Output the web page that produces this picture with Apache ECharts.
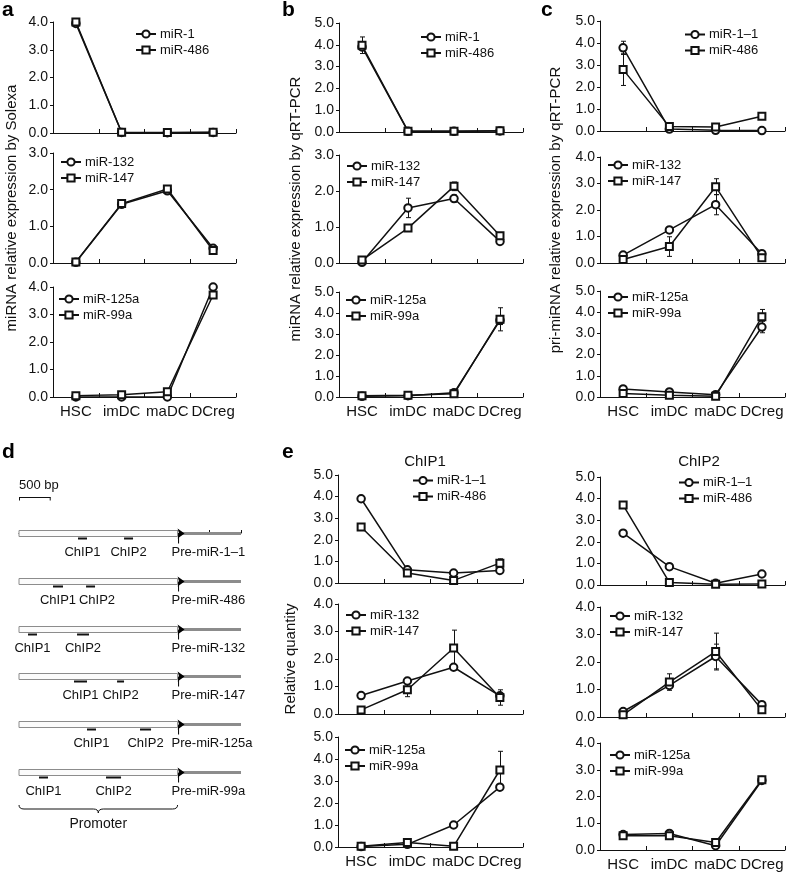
<!DOCTYPE html>
<html>
<head>
<meta charset="utf-8">
<script src="https://cdn.jsdelivr.net/npm/echarts@6/dist/echarts.min.js"></script>
<style>
  html, body { margin: 0; padding: 0; background: #fff; }
  #main { width: 788px; height: 872px; }
</style>
</head>
<body>
<div id="main"></div>
<script>
// stages on the x axis
var categories = ['HSC', 'imDC', 'maDC', 'DCreg'];

// a: Solexa
var a_miR1 = [3.95, 0.02, 0.01, 0.02];
var a_miR486 = [4.0, 0.03, 0.02, 0.03];
var a_miR132 = [0.02, 1.6, 1.97, 0.4];
var a_miR147 = [0.03, 1.62, 2.02, 0.34];
var a_miR125a = [0.0, 0.0, 0.0, 4.0];
var a_miR99a = [0.05, 0.08, 0.19, 3.71];

// b: miRNA qRT-PCR
var b_miR1 = [3.9, 0.03, 0.03, 0.05];
var b_miR486 = [3.98, 0.04, 0.04, 0.06];
var b_miR486_err = [0.38, 0, 0, 0];
var b_miR132 = [0.02, 1.53, 1.79, 0.6];
var b_miR132_err = [0, 0.27, 0.1, 0.08];
var b_miR147 = [0.08, 0.97, 2.13, 0.76];
var b_miR147_err = [0, 0, 0.12, 0.04];
var b_miR125a = [0.03, 0.06, 0.2, 3.65];
var b_miR125a_err = [0, 0, 0, 0.2];
var b_miR99a = [0.06, 0.08, 0.15, 3.7];
var b_miR99a_err = [0, 0, 0, 0.55];

// c: pri-miRNA qRT-PCR
var c_miR11 = [3.78, 0.09, 0.03, 0.02];
var c_miR11_err = [0.3, 0, 0, 0];
var c_miR486 = [2.79, 0.2, 0.18, 0.67];
var c_miR486_err = [0.72, 0, 0, 0];
var c_miR132 = [0.3, 1.25, 2.2, 0.35];
var c_miR132_err = [0, 0.1, 0.38, 0];
var c_miR147 = [0.13, 0.62, 2.88, 0.2];
var c_miR147_err = [0, 0.37, 0.3, 0.05];
var c_miR125a = [0.38, 0.24, 0.11, 3.3];
var c_miR125a_err = [0, 0, 0, 0.27];
var c_miR99a = [0.17, 0.08, 0.03, 3.78];
var c_miR99a_err = [0, 0, 0, 0.35];

// e: ChIP1
var e1_miR11 = [3.9, 0.61, 0.46, 0.58];
var e1_miR486 = [2.59, 0.46, 0.12, 0.92];
var e1_miR486_err = [0, 0, 0, 0.2];
var e1_miR132 = [0.67, 1.2, 1.7, 0.66];
var e1_miR132_err = [0, 0, 0.1, 0];
var e1_miR147 = [0.15, 0.88, 2.4, 0.6];
var e1_miR147_err = [0, 0.25, 0.65, 0.28];
var e1_miR125a = [0.02, 0.12, 1.0, 2.72];
var e1_miR125a_err = [0, 0, 0, 0.1];
var e1_miR99a = [0.03, 0.2, 0.03, 3.5];
var e1_miR99a_err = [0, 0, 0, 0.85];

// e: ChIP2
var e2_miR11 = [2.4, 0.85, 0.08, 0.51];
var e2_miR486 = [3.7, 0.12, 0.03, 0.05];
var e2_miR132 = [0.2, 1.15, 2.2, 0.45];
var e2_miR132_err = [0, 0, 0.45, 0];
var e2_miR147 = [0.08, 1.27, 2.38, 0.26];
var e2_miR147_err = [0, 0.3, 0.67, 0];
var e2_miR125a = [0.58, 0.62, 0.16, 2.6];
var e2_miR99a = [0.53, 0.53, 0.28, 2.63];

// d: promoter schematic (bp)
var geneNames = ['Pre-miR-1\u20131', 'Pre-miR-486', 'Pre-miR-132', 'Pre-miR-147', 'Pre-miR-125a', 'Pre-miR-99a'];
var chip1Start = [930, 536, 142, 867, 1072, 315];
var chip1End = [1072, 694, 284, 1072, 1214, 457];
var chip2Start = [1656, 1057, 915, 1546, 1908, 1372];
var chip2End = [1798, 1199, 1104, 1656, 2082, 1609];
var promoterLength = 2500;
var regionLength = 3500;
var scaleBar = 500;

var FONT = '"Liberation Sans", Arial, Helvetica, sans-serif';

var panels = [
  {box: [53, 22, 183, 111], max: 4, names: ['miR-1', 'miR-486'], circle: a_miR1, square: a_miR486, leg: [135, 27.5]},
  {box: [53, 153, 183, 110], max: 3, names: ['miR-132', 'miR-147'], circle: a_miR132, square: a_miR147, leg: [60, 155.5],
    title: 'miRNA relative expression by Solexa', gap: 34},
  {box: [53, 287, 183, 110], max: 4, names: ['miR-125a', 'miR-99a'], circle: a_miR125a, square: a_miR99a, leg: [58, 292.5], labels: true},

  {box: [339, 23, 184, 109], max: 5, names: ['miR-1', 'miR-486'], circle: b_miR1, square: b_miR486, sErr: b_miR486_err, leg: [420, 30.5]},
  {box: [339, 155, 184, 108], max: 3, names: ['miR-132', 'miR-147'], circle: b_miR132, square: b_miR147, cErr: b_miR132_err, sErr: b_miR147_err, leg: [346, 159.5],
    title: 'miRNA relative expression by qRT-PCR', gap: 36},
  {box: [339, 292, 184, 105], max: 5, names: ['miR-125a', 'miR-99a'], circle: b_miR125a, square: b_miR99a, cErr: b_miR125a_err, sErr: b_miR99a_err, leg: [345, 293.5], labels: true},

  {box: [600, 21, 185, 110], max: 5, names: ['miR-1\u20131', 'miR-486'], circle: c_miR11, square: c_miR486, cErr: c_miR11_err, sErr: c_miR486_err, leg: [684, 28]},
  {box: [600, 157, 185, 106], max: 4, names: ['miR-132', 'miR-147'], circle: c_miR132, square: c_miR147, cErr: c_miR132_err, sErr: c_miR147_err, leg: [607, 158.5],
    title: 'pri-miRNA relative expression by qRT-PCR', gap: 37},
  {box: [600, 291, 185, 106], max: 5, names: ['miR-125a', 'miR-99a'], circle: c_miR125a, square: c_miR99a, cErr: c_miR125a_err, sErr: c_miR99a_err, leg: [607, 290.5], labels: true},

  {box: [338, 475, 185, 108], max: 5, names: ['miR-1\u20131', 'miR-486'], circle: e1_miR11, square: e1_miR486, sErr: e1_miR486_err, leg: [412, 474]},
  {box: [338, 604, 185, 110], max: 4, names: ['miR-132', 'miR-147'], circle: e1_miR132, square: e1_miR147, cErr: e1_miR132_err, sErr: e1_miR147_err, leg: [345, 608.5],
    title: 'Relative quantity', gap: 40},
  {box: [338, 737, 185, 110], max: 5, names: ['miR-125a', 'miR-99a'], circle: e1_miR125a, square: e1_miR99a, cErr: e1_miR125a_err, sErr: e1_miR99a_err, leg: [344, 743.5], labels: true},

  {box: [600, 477, 185, 108], max: 5, names: ['miR-1\u20131', 'miR-486'], circle: e2_miR11, square: e2_miR486, leg: [678, 476]},
  {box: [600, 607, 185, 110], max: 4, names: ['miR-132', 'miR-147'], circle: e2_miR132, square: e2_miR147, cErr: e2_miR132_err, sErr: e2_miR147_err, leg: [609, 609.5]},
  {box: [600, 743, 185, 107], max: 4, names: ['miR-125a', 'miR-99a'], circle: e2_miR125a, square: e2_miR99a, leg: [609, 748.5], labels: true}
];

var grid = [], xAxis = [], yAxis = [], series = [], legend = [];

function errPoints(values, errs) {
  var pts = [];
  if (!errs) return pts;
  errs.forEach(function (e, i) { if (e > 0) pts.push([i, values[i], e]); });
  return pts;
}

function renderErr(params, api) {
  var i = api.value(0), v = api.value(1), e = api.value(2);
  var top = api.coord([i, v + e]);
  var bot = api.coord([i, v - e]);
  var x = Math.round(top[0]) + 0.5;
  return {
    type: 'group',
    children: [
      {type: 'line', shape: {x1: x, y1: top[1], x2: x, y2: bot[1]}, style: {stroke: '#111', lineWidth: 1}},
      {type: 'line', shape: {x1: x - 2.5, y1: top[1], x2: x + 2.5, y2: top[1]}, style: {stroke: '#111', lineWidth: 1}},
      {type: 'line', shape: {x1: x - 2.5, y1: bot[1], x2: x + 2.5, y2: bot[1]}, style: {stroke: '#111', lineWidth: 1}}
    ]
  };
}

function lineSeries(name, data, gi, symbol) {
  return {
    type: 'line', name: name, data: data, xAxisIndex: gi, yAxisIndex: gi,
    symbol: symbol, symbolSize: symbol === 'emptyRect' ? 7 : 7.5, showSymbol: true,
    lineStyle: {color: '#111', width: 1.5},
    itemStyle: {color: '#111', borderWidth: 1.1},
    emphasis: {disabled: true}, silent: true, z: 3
  };
}

panels.forEach(function (p, gi) {
  grid.push({left: p.box[0], top: p.box[1], width: p.box[2], height: p.box[3]});
  xAxis.push({
    type: 'category', gridIndex: gi, data: categories, boundaryGap: true,
    axisLine: {lineStyle: {color: '#111', width: 1}},
    axisTick: {show: true, inside: true, length: 4, lineStyle: {color: '#111'}},
    axisLabel: {show: !!p.labels, fontSize: 15, color: '#111', fontFamily: FONT, margin: 7, interval: 0}
  });
  yAxis.push({
    type: 'value', gridIndex: gi, min: 0, max: p.max, interval: 1,
    name: p.title || '', nameLocation: 'middle', nameGap: p.gap || 30,
    nameTextStyle: {fontSize: 15, color: '#111', fontFamily: FONT},
    axisLine: {show: true, lineStyle: {color: '#111', width: 1}},
    axisTick: {show: true, length: 3, lineStyle: {color: '#111'}},
    splitLine: {show: false},
    axisLabel: {fontSize: 14, color: '#111', fontFamily: FONT, margin: 5,
      formatter: function (v) { return v.toFixed(1); }}
  });
  series.push(lineSeries(p.names[0], p.circle, gi, 'emptyCircle'));
  series.push(lineSeries(p.names[1], p.square, gi, 'emptyRect'));
  var pts = errPoints(p.circle, p.cErr).concat(errPoints(p.square, p.sErr));
  if (pts.length) {
    series.push({type: 'custom', xAxisIndex: gi, yAxisIndex: gi, data: pts, renderItem: renderErr,
      silent: true, z: 2, encode: {x: 0, y: 1}});
  }
  legend.push({
    data: p.names, left: p.leg[0], top: p.leg[1], orient: 'vertical',
    itemWidth: 20, itemHeight: 9, itemGap: 3, padding: 0, selectedMode: false,
    textStyle: {fontSize: 13, color: '#111', fontFamily: FONT, padding: [0, 0, 0, -1]}
  });
});

// d: promoter schematic, one grid in bp
var dIndex = grid.length;
grid.push({left: 19, top: 533, width: 222, height: 239});
xAxis.push({
  type: 'value', gridIndex: dIndex, min: 0, max: regionLength, interval: 500,
  position: 'top', offset: 25,
  axisLine: {show: true, lineStyle: {color: '#111', width: 1}},
  axisTick: {show: true, length: 3, lineStyle: {color: '#111'}},
  axisLabel: {show: false}, splitLine: {show: false}
});
yAxis.push({type: 'value', gridIndex: dIndex, min: 0, max: geneNames.length - 1, inverse: true, show: false});

function txt(text, x, y, align, size) {
  return {type: 'text', style: {text: text, x: x, y: y, align: align, verticalAlign: 'middle',
    font: (size || 13) + 'px ' + FONT, fill: '#111'}};
}

function renderGene(params, api) {
  var row = api.value(0);
  var start = api.coord([0, row]);
  var y = Math.round(start[1]) + 0.5;
  var x0 = start[0];
  var xp = api.coord([promoterLength, row])[0];
  var xr = api.coord([regionLength, row])[0];
  var c1a = api.coord([api.value(1), row])[0], c1b = api.coord([api.value(2), row])[0];
  var c2a = api.coord([api.value(3), row])[0], c2b = api.coord([api.value(4), row])[0];
  var l1 = (c1a + c1b) / 2;
  var l2 = Math.max((c2a + c2b) / 2, l1 + 39);
  return {
    type: 'group',
    children: [
      {type: 'line', shape: {x1: xp + 3, y1: y, x2: xr, y2: y}, style: {stroke: '#8c8c8c', lineWidth: 3}},
      {type: 'rect', shape: {x: x0, y: y - 3, width: xp - x0, height: 6}, style: {fill: '#fbfbfb', stroke: '#8c8c8c', lineWidth: 1}},
      {type: 'polygon', shape: {points: [[xp, y - 5], [xp + 7, y], [xp, y + 5], [xp + 1.5, y]]}, style: {fill: '#000'}},
      {type: 'line', shape: {x1: xp + 1, y1: y, x2: xp + 1, y2: y + 10}, style: {stroke: '#000', lineWidth: 1}},
      {type: 'rect', shape: {x: c1a, y: y + 4, width: c1b - c1a, height: 2}, style: {fill: '#111'}},
      {type: 'rect', shape: {x: c2a, y: y + 4, width: c2b - c2a, height: 2}, style: {fill: '#111'}},
      txt('ChIP1', l1, y + 19, 'center'),
      txt('ChIP2', l2, y + 19, 'center'),
      txt(geneNames[params.dataIndex], xp - 6, y + 19, 'left')
    ]
  };
}

function renderFrame(params, api) {
  var top = api.coord([0, 0]);
  var last = api.coord([0, geneNames.length - 1]);
  var x0 = top[0];
  var xs = api.coord([api.value(0), 0])[0];
  var xp = api.coord([api.value(1), 0])[0];
  var xm = (x0 + xp) / 2;
  var ys = Math.round(top[1]) - 36 + 0.5;
  var yt = last[1] + 33, ym = yt + 4, yb = yt + 8;
  var brace = 'M' + x0 + ' ' + yt + ' Q' + x0 + ' ' + ym + ' ' + (x0 + 5) + ' ' + ym +
    ' L' + (xm - 5) + ' ' + ym + ' Q' + xm + ' ' + ym + ' ' + xm + ' ' + yb +
    ' Q' + xm + ' ' + ym + ' ' + (xm + 5) + ' ' + ym +
    ' L' + (xp - 5) + ' ' + ym + ' Q' + xp + ' ' + ym + ' ' + xp + ' ' + yt;
  return {
    type: 'group',
    children: [
      {type: 'line', shape: {x1: x0, y1: ys, x2: xs, y2: ys}, style: {stroke: '#111', lineWidth: 1}},
      {type: 'line', shape: {x1: x0 + 0.5, y1: ys, x2: x0 + 0.5, y2: ys + 3}, style: {stroke: '#111', lineWidth: 1}},
      {type: 'line', shape: {x1: xs - 0.5, y1: ys, x2: xs - 0.5, y2: ys + 3}, style: {stroke: '#111', lineWidth: 1}},
      txt(api.value(0) + ' bp', x0, ys - 12, 'left'),
      {type: 'path', shape: {pathData: brace}, style: {stroke: '#111', lineWidth: 1, fill: null}},
      txt('Promoter', xm, yb + 11, 'center', 14)
    ]
  };
}

series.push({
  type: 'custom', xAxisIndex: dIndex, yAxisIndex: dIndex, silent: true,
  data: geneNames.map(function (g, i) { return [i, chip1Start[i], chip1End[i], chip2Start[i], chip2End[i]]; }),
  encode: {x: [1, 2, 3, 4], y: 0},
  renderItem: renderGene
});
series.push({
  type: 'custom', xAxisIndex: dIndex, yAxisIndex: dIndex, silent: true,
  data: [[scaleBar, promoterLength]],
  encode: {x: [0, 1]},
  renderItem: renderFrame
});

function letter(t, x, y) {
  return {type: 'text', left: x, top: y, style: {text: t, font: 'bold 21px ' + FONT, fill: '#000'}};
}
function heading(t, cx, y) {
  return {type: 'text', x: cx, y: y, style: {text: t, font: '15px ' + FONT, fill: '#111', align: 'center', verticalAlign: 'middle'}};
}

var myChart = echarts.init(document.getElementById('main'), null, {renderer: 'canvas'});
var option = {
  animation: false,
  backgroundColor: '#fff',
  grid: grid,
  xAxis: xAxis,
  yAxis: yAxis,
  legend: legend,
  series: series,
  graphic: [
    letter('a', 2, 0), letter('b', 282, 0), letter('c', 541, 0),
    letter('d', 2, 442), letter('e', 282, 442),
    heading('ChIP1', 425, 462), heading('ChIP2', 699, 462)
  ]
};
option && myChart.setOption(option);
</script>
</body>
</html>
